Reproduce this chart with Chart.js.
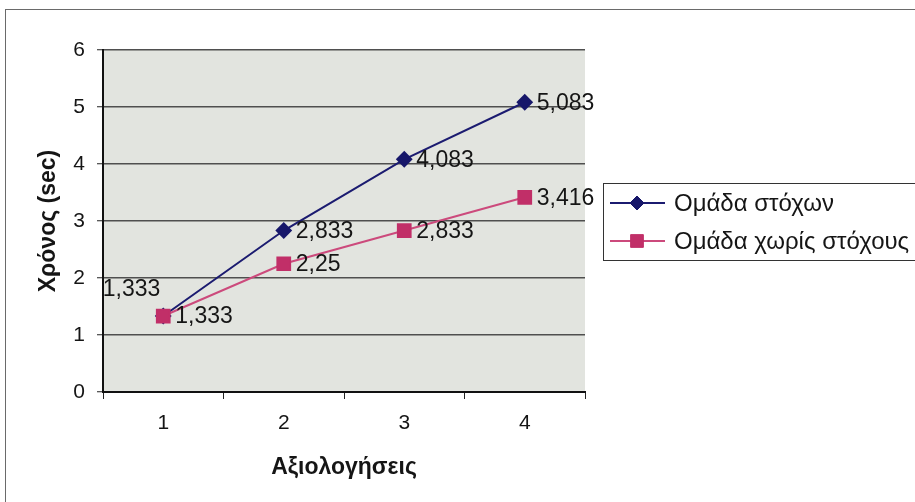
<!doctype html>
<html lang="el">
<head>
<meta charset="utf-8">
<title>Χρόνος ανά αξιολόγηση</title>
<script src="https://cdn.jsdelivr.net/npm/chart.js@4.4.0/dist/chart.umd.min.js"></script>
<style>
  html, body { margin: 0; padding: 0; background: #fff; }
  #wrap { position: relative; width: 915px; height: 502px; overflow: hidden; }
  #frame { position: absolute; left: 5px; top: 9px; right: -2px; bottom: -2px;
           border-left: 1px solid #6a6a6a; border-top: 1px solid #6a6a6a; pointer-events: none; }
  canvas { position: absolute; left: 0; top: 0; }
</style>
</head>
<body>
<div id="wrap">
  <canvas id="chart" width="915" height="502"></canvas>
  <div id="frame"></div>
</div>
<script>
// data
var labels = ["1", "2", "3", "4"];
var withGoals = [1.333, 2.833, 4.083, 5.083];
var withoutGoals = [1.333, 2.25, 2.833, 3.416];
var seriesNames = ["Ομάδα στόχων", "Ομάδα χωρίς στόχους"];
var yTicks = [0, 1, 2, 3, 4, 5, 6];

var FONT = "'Liberation Sans', Arial, sans-serif";
var BLUE_LINE = "#1b1b70", BLUE_MARK = "#17176a";
var PINK_LINE = "#cc4a7c", PINK_MARK = "#c12f68";

// where each value label sits relative to its point
var labelPlacement = [
  ["aboveLeft", "right", "right", "right"],
  ["right", "right", "right", "right"]
];

function fmt(v) {
  return String(v).replace(".", ",");
}

// grey plot area
var plotBg = {
  id: "plotBg",
  beforeDraw: function (chart) {
    var a = chart.chartArea, ctx = chart.ctx;
    ctx.save();
    ctx.fillStyle = "#e2e4df";
    ctx.fillRect(a.left, a.top, a.right - a.left, a.bottom - a.top);
    ctx.restore();
  }
};

// value labels next to the markers
var valueLabels = {
  id: "valueLabels",
  afterDatasetsDraw: function (chart) {
    var ctx = chart.ctx;
    ctx.save();
    ctx.font = "23px " + FONT;
    ctx.fillStyle = "#151515";
    chart.data.datasets.forEach(function (ds, i) {
      var meta = chart.getDatasetMeta(i);
      meta.data.forEach(function (pt, j) {
        var txt = fmt(ds.data[j]);
        var place = labelPlacement[i][j];
        ctx.textBaseline = "middle";
        if (place === "aboveLeft") {
          ctx.textAlign = "right";
          ctx.fillText(txt, pt.x - 3, pt.y - 26);
        } else {
          ctx.textAlign = "left";
          ctx.fillText(txt, pt.x + 12, pt.y + 1);
        }
      });
    });
    ctx.restore();
  }
};

// boxed legend to the right of the plot
var sideLegend = {
  id: "sideLegend",
  afterDraw: function (chart) {
    var ctx = chart.ctx;
    var x = 603.5, y = 183.5, w = 330, h = 77;
    ctx.save();
    ctx.fillStyle = "#fff";
    ctx.fillRect(x, y, w, h);
    ctx.strokeStyle = "#333";
    ctx.lineWidth = 1;
    ctx.strokeRect(x, y, w, h);
    chart.data.datasets.forEach(function (ds, i) {
      var cy = 203 + i * 38;
      ctx.strokeStyle = ds.borderColor;
      ctx.lineWidth = 2;
      ctx.beginPath();
      ctx.moveTo(610, cy);
      ctx.lineTo(665, cy);
      ctx.stroke();
      ctx.fillStyle = ds.pointBackgroundColor;
      ctx.strokeStyle = ds.pointBorderColor;
      ctx.lineWidth = 1;
      Chart.helpers.drawPoint(ctx, {
        pointStyle: ds.pointStyle,
        radius: ds.pointRadius,
        borderWidth: 1
      }, 637, cy);
      ctx.fillStyle = "#151515";
      ctx.font = "24px " + FONT;
      ctx.textAlign = "left";
      ctx.textBaseline = "middle";
      ctx.fillText(seriesNames[i], 674, cy + 1);
    });
    ctx.restore();
  }
};

new Chart(document.getElementById("chart").getContext("2d"), {
  type: "line",
  data: {
    labels: labels,
    datasets: [
      {
        label: seriesNames[0],
        data: withGoals,
        borderColor: BLUE_LINE,
        borderWidth: 2,
        pointStyle: "rectRot",
        pointRadius: 7,
        pointBackgroundColor: BLUE_MARK,
        pointBorderColor: BLUE_MARK,
        tension: 0,
        order: 1
      },
      {
        label: seriesNames[1],
        data: withoutGoals,
        borderColor: PINK_LINE,
        borderWidth: 2,
        pointStyle: "rect",
        pointRadius: 9,
        pointBackgroundColor: PINK_MARK,
        pointBorderColor: PINK_MARK,
        tension: 0,
        order: 0
      }
    ]
  },
  options: {
    responsive: false,
    animation: false,
    layout: { padding: { left: 31, right: 330, top: 50, bottom: 17 } },
    plugins: {
      legend: { display: false },
      tooltip: { enabled: false }
    },
    scales: {
      x: {
        type: "category",
        offset: true,
        afterFit: function (s) { s.height = 93; },
        grid: { offset: true, drawOnChartArea: false, tickLength: 7, tickColor: "#222", tickWidth: 1 },
        border: { color: "#111", width: 2 },
        ticks: { color: "#151515", padding: 12, font: { family: FONT, size: 21 } },
        title: {
          display: true, text: "Αξιολογήσεις", color: "#151515",
          font: { family: FONT, size: 23, weight: "bold" }
        }
      },
      y: {
        min: 0,
        max: 6,
        afterFit: function (s) { s.width = 72; },
        afterBuildTicks: function (s) {
          s.ticks = yTicks.map(function (v) { return { value: v }; });
        },
        grid: { color: "#4f4f4f", lineWidth: 1.5, tickLength: 6, tickColor: "#222", tickWidth: 1 },
        border: { color: "#111", width: 2 },
        ticks: { color: "#151515", padding: 12, font: { family: FONT, size: 21 } },
        title: {
          display: true, text: "Χρόνος (sec)", color: "#151515",
          font: { family: FONT, size: 23, weight: "bold" }
        }
      }
    }
  },
  plugins: [plotBg, valueLabels, sideLegend]
});
</script>
</body>
</html>
